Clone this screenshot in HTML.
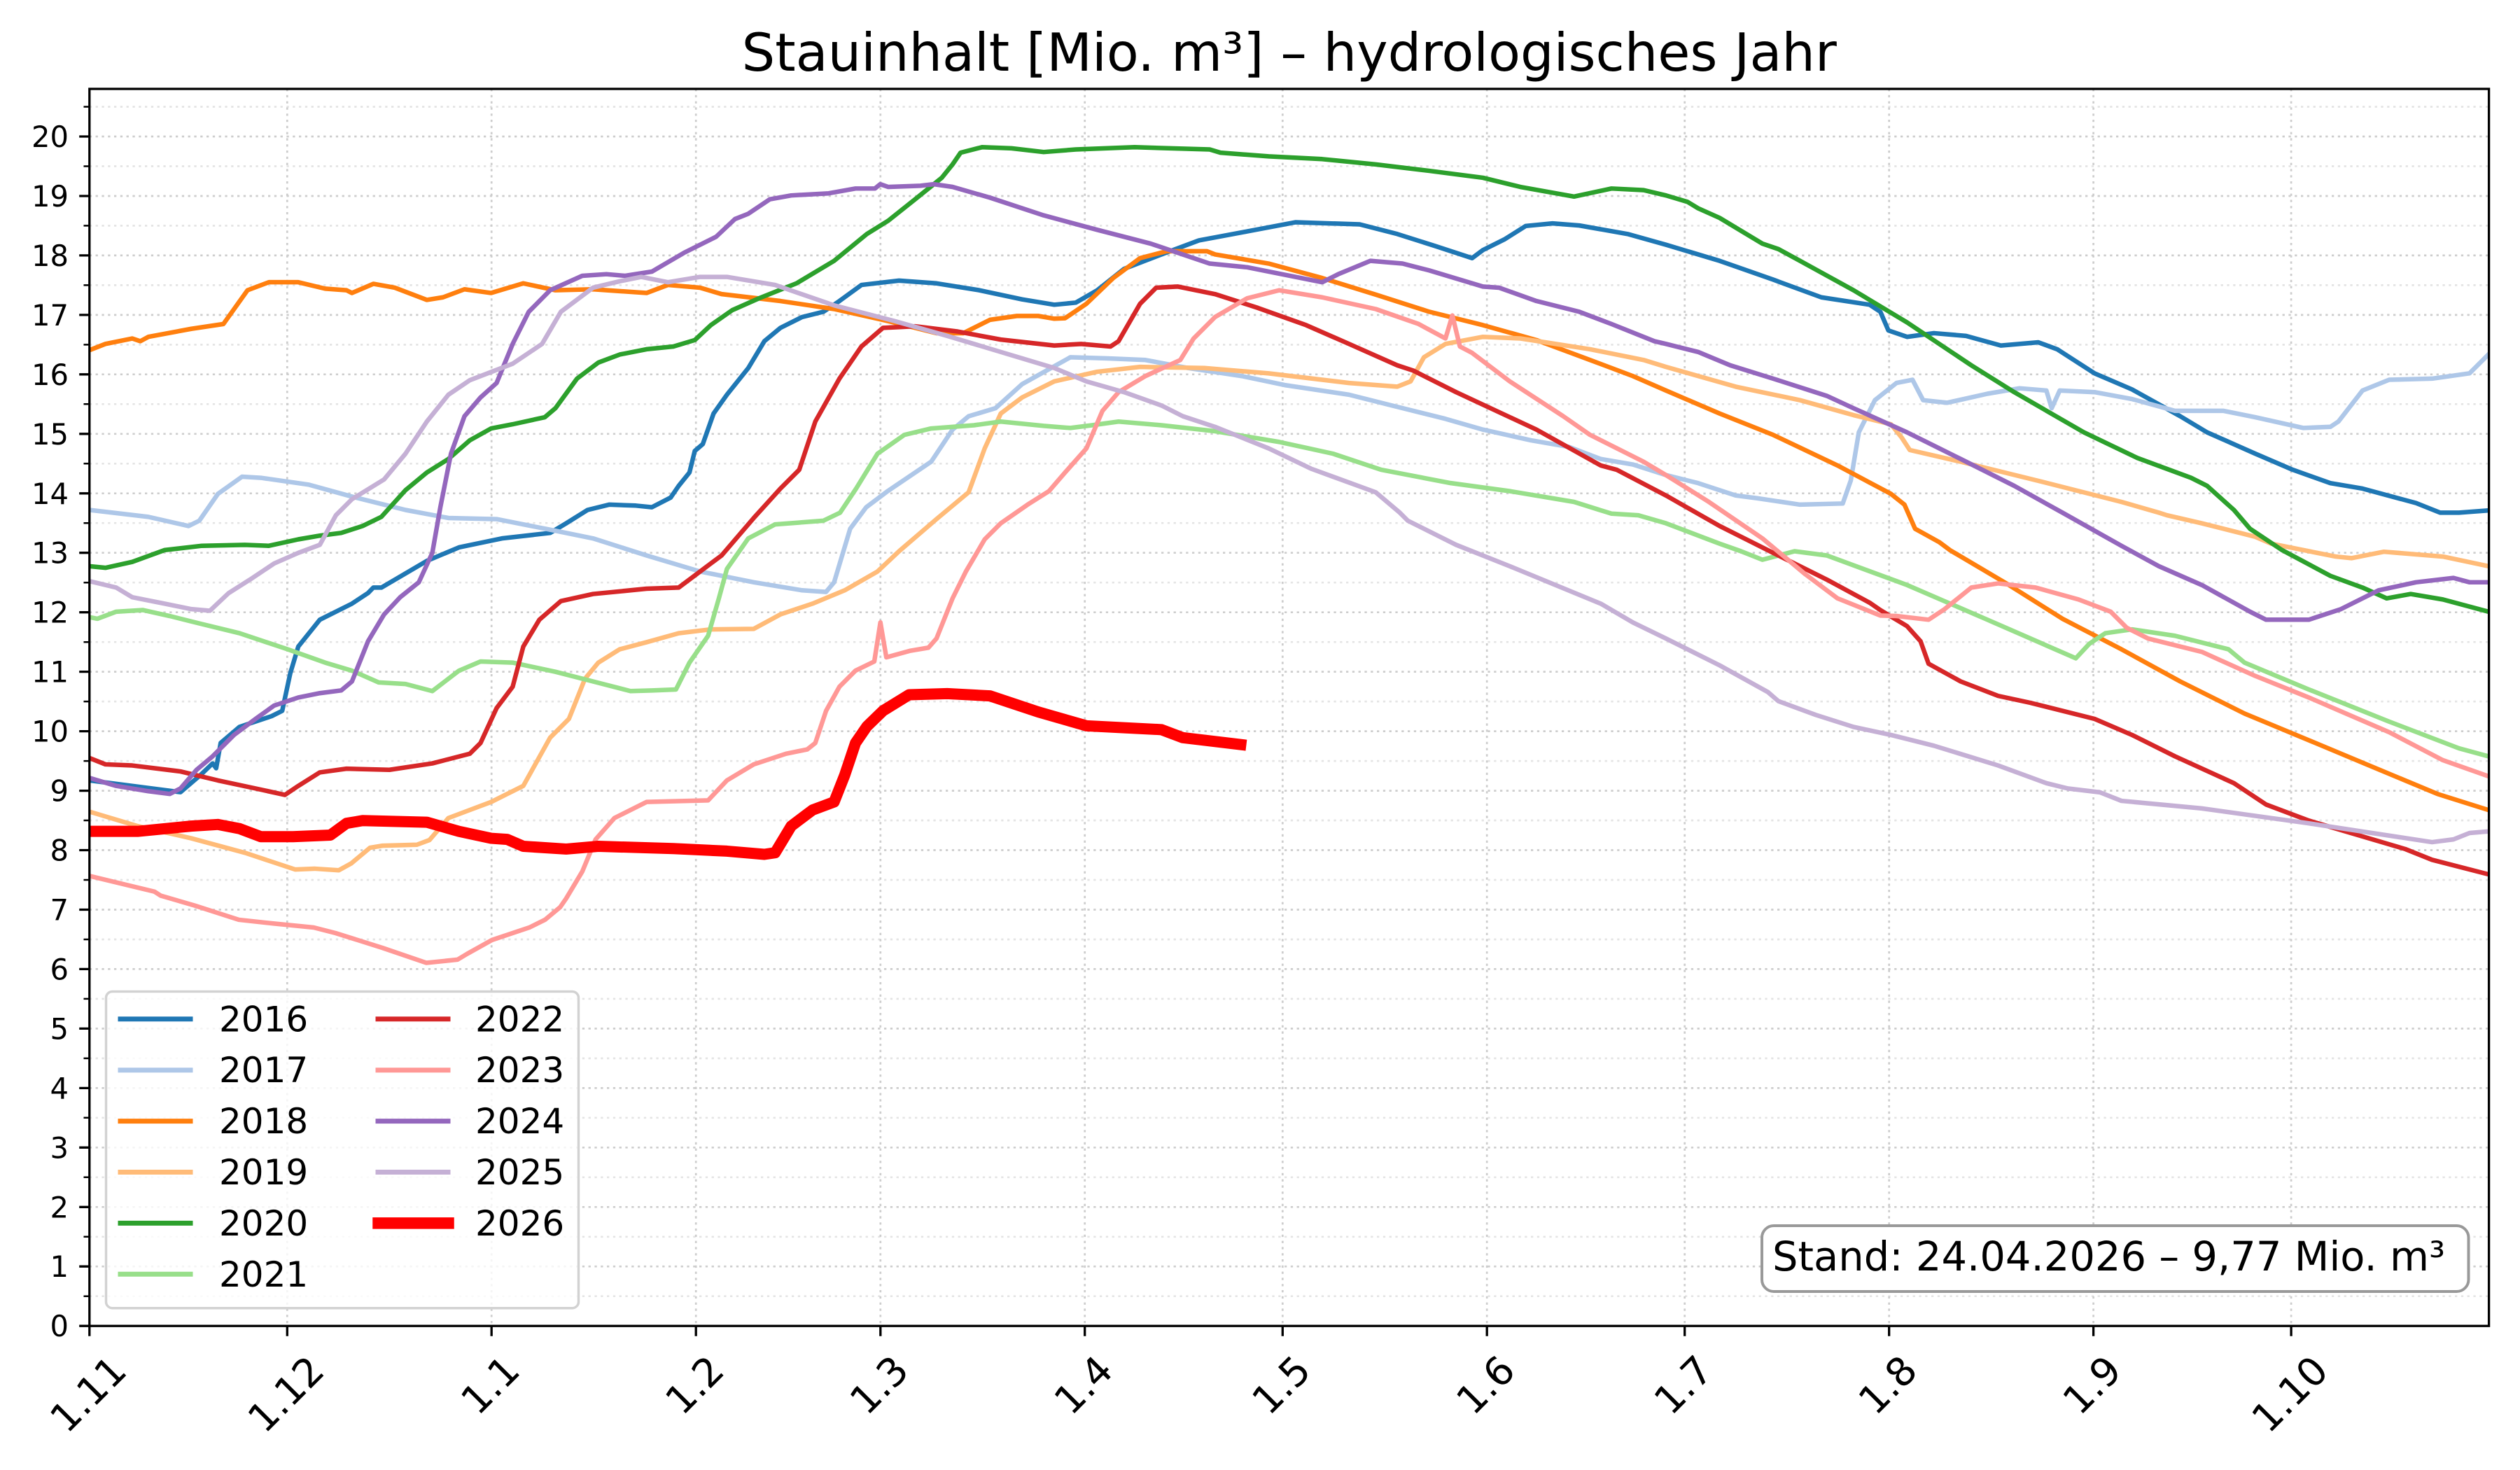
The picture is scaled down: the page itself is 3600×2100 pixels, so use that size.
<!DOCTYPE html>
<html><head><meta charset="utf-8"><style>
html,body{margin:0;padding:0;background:#fff;overflow:hidden}
svg{display:block}
text{font-family:"DejaVu Sans","Liberation Sans",sans-serif;fill:#000}
</style></head><body>
<svg width="3600" height="2100" viewBox="0 0 3600 2100" xmlns="http://www.w3.org/2000/svg">
<defs><clipPath id="ax"><rect x="127.8" y="127" width="3427.8" height="1767.2"/></clipPath></defs>
<rect x="0" y="0" width="3600" height="2100" fill="#fff"/>
<!-- minor horizontal grid -->
<g stroke="#e4e4e4" stroke-width="2.7" stroke-dasharray="3.3 5.5" fill="none">
<path d="M127.8 1851.7H3555.6M127.8 1766.8H3555.6M127.8 1681.8H3555.6M127.8 1596.8H3555.6M127.8 1511.9H3555.6M127.8 1426.9H3555.6M127.8 1342H3555.6M127.8 1257H3555.6M127.8 1172H3555.6M127.8 1087.1H3555.6M127.8 1002.1H3555.6M127.8 917.2H3555.6M127.8 832.2H3555.6M127.8 747.2H3555.6M127.8 662.3H3555.6M127.8 577.3H3555.6M127.8 492.4H3555.6M127.8 407.4H3555.6M127.8 322.4H3555.6M127.8 237.5H3555.6M127.8 152.5H3555.6"/>
</g>
<!-- major grid -->
<g stroke="#cdcdcd" stroke-width="2.7" stroke-dasharray="3.3 5.5" fill="none">
<path d="M127.8 1809.2H3555.6M127.8 1724.3H3555.6M127.8 1639.3H3555.6M127.8 1554.4H3555.6M127.8 1469.4H3555.6M127.8 1384.4H3555.6M127.8 1299.5H3555.6M127.8 1214.5H3555.6M127.8 1129.6H3555.6M127.8 1044.6H3555.6M127.8 959.6H3555.6M127.8 874.7H3555.6M127.8 789.7H3555.6M127.8 704.8H3555.6M127.8 619.8H3555.6M127.8 534.8H3555.6M127.8 449.9H3555.6M127.8 364.9H3555.6M127.8 280H3555.6M127.8 195H3555.6"/>
<path d="M410.3 127V1894.2M702.2 127V1894.2M994.2 127V1894.2M1257.8 127V1894.2M1549.7 127V1894.2M1832.3 127V1894.2M2124.2 127V1894.2M2406.7 127V1894.2M2698.7 127V1894.2M2990.6 127V1894.2M3273.1 127V1894.2"/>
</g>
<!-- series -->
<g clip-path="url(#ax)">
<g transform="scale(2.29592)" fill="none" stroke-linejoin="round" stroke-linecap="square" stroke-width="2.83">
<polyline stroke="#1f77b4" points="55.6,485.6 112.3,492.9 125,482 132.3,475 134.5,478 137.3,462.3 149,452.3 169,445.6 175.6,442.3 180.6,419 185.6,402.3 199,385.6 219,375.6 229,369 232.3,365.6 237.3,365.6 265.6,349 285.6,340.6 312.3,335 342.3,331.6 352.3,325.6 365.6,317.3 379,314 395.6,314.6 405.6,315.6 417.3,309.6 422.3,302.3 429,294 432.3,280.6 437.3,276.3 444,257.3 452.3,245.6 465.6,229 475.6,212.3 485.6,204 499,197.3 512.3,194 522.3,187.3 536,177.3 559.4,174.6 582.7,176.3 609.4,180.6 636,186.3 656,189.6 669.4,188.3 682.7,180.6 699.4,167.3 722.7,158.3 746,149.6 776,144 806,138.3 846,139.6 869.4,145.6 892.7,153 916,160.6 922.7,155.6 936,149 949.4,140.6 966,139 982.7,140.3 1012.7,145.6 1036.6,152.3 1070,162.3 1103.3,174 1133.3,185 1163.3,189.6 1170,194 1175,205.6 1186.6,209.6 1203.3,207.3 1223.3,209 1245,215 1268.3,213 1280,217.3 1303.3,232.3 1326.6,242.3 1356.6,259 1373.3,269 1403.3,282.3 1426.6,292.3 1450,300.6 1470,304 1503.3,313 1518.3,319 1530,319 1548.3,317.6"/>
<polyline stroke="#aec7e8" points="55.6,317.3 92.3,321.6 117.3,327.3 124,324 135.6,307.3 150.6,296.6 162.3,297.3 192.3,301.6 219,309 252.3,317.3 279,322.3 309,323 342.3,329.6 369,335 402.3,345.6 435.6,355.6 469,362.3 499,367.3 514,368.3 519,362.3 529,329 539,315.6 552.3,305.6 579.4,287.3 592.7,267.3 602.7,259 619.4,254 636,239 666,222.3 689.4,223 712.7,224 739.4,229 772.7,234 799.4,239.6 839.4,245.6 866,252.3 899.4,260.6 922.7,267.3 952.7,274 976,278 996,285.6 1016,289 1036.6,295.6 1056.6,300.6 1080,308.3 1093.3,310 1120,314 1146.6,313.3 1151.6,299 1156.6,269 1166.6,249 1180,238.3 1190,236.3 1196.6,249 1211.6,250.6 1236.6,245 1256.6,241.6 1273.3,243 1276.6,254 1281.6,243 1303.3,244 1326.6,248.3 1353.3,255.6 1383.3,255.6 1403.3,259.6 1433.3,266.3 1450,265.6 1455,262.3 1470,243 1486.6,236.3 1513.3,235.6 1536.6,232.3 1548.3,220.6"/>
<polyline stroke="#ff7f0e" points="55.6,217.9 65.6,214 82.3,210.6 87.3,212.3 92.3,209.6 119,204.6 139,201.6 154,180.6 167.3,175.6 185.6,175.6 202.3,179.6 215.6,180.6 219,182.3 232.3,176.6 245.6,179 265.6,186.6 275.6,185 289,180 305.6,182.3 325.6,176.3 345.6,180.6 369,180 402.3,182.3 415.6,177.3 435.6,179 449,183 485.6,187.3 519,192.3 549,199 556,200.6 582.7,207.3 599.4,207.3 616,199 632.7,196.6 646,196.6 656,198.3 662.7,198 676,189 692.7,173 709.4,160.6 726,156.3 751,156.3 756,158.3 789.4,164 822.7,173 856,183.3 889.4,194 922.7,202.3 956,211.6 989.4,224 1016,234 1036.6,243 1070,257.3 1103.3,270.6 1143.3,289.6 1176.6,307.3 1185,314 1191.6,329 1206.6,337.3 1213.3,342.3 1250,364 1283.3,385 1320,404 1356.6,424 1396.6,444 1436.6,460.6 1476.6,477.3 1516.6,494 1548.3,504"/>
<polyline stroke="#ffbb78" points="55.6,505 85.6,514 119,521.6 152.3,530.6 183.6,541 195.6,540.5 210.8,541.5 218.6,537.2 230.2,527.5 238,526.2 259.4,525.6 267.2,522.7 279,509 292.3,504 305.6,499 325.6,489 342.3,459 354,447.3 364,422.3 372.3,412.3 385.6,404 402.3,399.6 422.3,394 442.3,391.6 469,391.3 485.6,382.3 505.6,375.6 525.6,367.3 546,355.6 559.4,343 582.7,323 602.7,306.3 612.7,279 622.7,257.3 636,247.3 656,237.3 682.7,231.3 709.4,228.3 749.4,229 789.4,232.3 839.4,238.3 869.4,240.6 877.7,237.3 886,222.3 899.4,214 922.7,209.6 946,210.6 989.4,217.3 1022.7,224 1036.6,228.3 1080,240.6 1120,249 1153.3,258.3 1176.6,264 1183.3,272.3 1188.3,280 1220,287.3 1270,299.6 1320,312.3 1343.3,319 1348.3,320.6 1370,325.6 1403.3,334 1413.3,338.3 1453.3,346.3 1463.3,347.3 1483.3,343.3 1520,346.3 1548.3,352.3"/>
<polyline stroke="#2ca02c" points="55.6,352.3 65.6,353.3 82.3,349.6 102.3,342.3 125.6,339.6 152.3,339 167.3,339.6 185.6,335.6 199,333.3 212.3,331.6 225.6,327.3 237.3,321.6 252.3,305 265.6,294 279,285.6 292.3,274 305.6,266.6 319,264 339,259.6 345.6,254 359,235.6 372.3,225.6 385.6,220.6 402.3,217.3 419,215.6 432.3,211.6 442.3,202.3 455.6,193 472.3,185.6 495.6,176.3 519,162.3 539.4,145.6 552.7,137.3 569.4,124 586,110.6 592.7,102.3 597.7,95 611,91.6 629.4,92.3 649.4,94.6 669.4,93 706,91.6 752.7,93 759.4,95 789.4,97.3 822.7,99 856,102.3 889.4,106.3 922.7,110.6 946,116.3 979.4,122.3 1002.7,117.3 1022.7,118.3 1036.6,121.6 1050,125.6 1056.6,129.6 1070,135.6 1096.6,151.6 1106.6,155 1120,162.3 1153.3,180.6 1186.6,200.6 1226.6,227.3 1253.3,244 1296.6,269 1330,285 1363.3,297.3 1373.3,302.3 1390,317.3 1400,329 1420,342.3 1450,358.3 1470,365.6 1485,372.3 1500,369.6 1520,373 1548.3,380.6"/>
<polyline stroke="#98df8a" points="55.6,384 60.6,385 72.3,380.6 89,379.6 105.6,383.3 125.6,388.3 149,394 179,404 202.3,412.3 219,417.3 235.6,424.6 252.3,425.6 269,430 285.6,417.3 299,411.6 319,412.3 345.6,418 369,424 392.3,430 405.6,429.6 420.6,429 429,412.3 440.6,395.6 447.3,372.3 452.3,354 465.6,335 482.3,326.3 512.3,324 522.7,319 532.7,304 546,282.3 562.7,270.6 579.4,266.6 606,264.6 622.7,262.3 649.4,265 666,266.3 679.4,264.6 696,262.3 722.7,264.6 756,268.3 796,275 829.4,282.3 859.4,292.3 902.7,300.6 939.4,305.6 979.4,312.3 1002.7,319.6 1019.4,320.6 1036.6,325.6 1070,338.3 1083.3,343 1096.6,348.3 1116.6,343 1136.6,345.6 1186.6,364 1236.6,385.6 1291.6,409.6 1300,400.6 1310,394 1326.6,391.6 1353.3,395.6 1386.6,404 1396.6,412.3 1436.6,429 1486.6,449 1530,465.6 1548.3,470.6"/>
<polyline stroke="#d62728" points="55.6,471.6 65.6,475.6 82.3,476.3 112.3,480 135.6,485.6 159,490.6 177.3,494.6 185.6,489 199,480.6 215.6,478.3 242.3,479 269,475 292.3,469 299,462.3 309,440.6 319,427.3 325.6,402.3 335.6,385.6 349,374 369,369.6 402.3,366.3 422.3,365.6 429,360.6 449,345.6 469,322.3 485.6,304 497.3,292.3 507.3,262.3 522.3,235.6 536,215.6 549.4,204 569.4,203 596,206.3 622.7,211.3 656,215 672.7,214 691,215.6 696,212.3 709.4,189 719.4,179 732.7,178.3 756,183 782.7,191.6 812.7,202.3 839.4,214 869.4,227.3 879.4,230.6 906,244 956,267.3 996,289.6 1006,292.3 1036.6,308.3 1070,327.3 1103.3,344 1136.6,360.6 1163.3,375 1170,379.6 1186.6,389.6 1195,399 1200,413 1220,424 1243.3,433 1263.3,437.3 1303.3,447.3 1326.6,457.3 1353.3,470.6 1390,487.3 1410,500.6 1436.6,510.6 1496.6,528.3 1513.3,535 1548.3,544"/>
<polyline stroke="#ff9896" points="55.6,545 96.1,554.8 100,557.3 121.3,563.5 148.6,572.3 170,574.6 195.2,577.1 208.8,580.6 238,589.8 265.2,599.1 284.7,597.1 290.5,593.6 306.1,584.9 329.4,577.1 339.1,572.3 348.5,564.5 352.3,559 362.3,542.3 370.6,522.3 382.3,509 402.3,499 440.6,498 452.3,485.6 469,475.6 489,469 502.3,466.3 507.3,462.3 514,442.3 522.3,427.3 532.3,417.3 544,411.6 547.8,387.3 551.5,409 566,405 577.7,403 582.7,397.3 592.7,372.3 601,355.6 612.7,335.6 622.7,325.6 639.4,314 652.7,305.6 662.7,294 676,279 686,255.6 696,244 712.7,234 734.4,224 742.7,210.6 756,197.3 776,185.6 796,180.6 822.7,185 856,192.3 882.7,201.6 899.4,210.6 903.7,196.3 908.4,215.6 916,219.6 939.4,237.3 972.7,259 989.4,270.6 1022.7,287.3 1036.6,295.6 1063.3,312.3 1096.6,335 1123.3,357.3 1143.3,372.3 1170,383 1180,383.3 1200,385.6 1210,379 1226.6,365.6 1243.3,363 1266.6,365.6 1293.3,373 1313.3,380.6 1323.3,390.6 1336.6,397.3 1370,405.6 1403.3,420.6 1436.6,434 1486.6,455.6 1520,473 1548.3,483"/>
<polyline stroke="#9467bd" points="55.6,484 72.3,489 92.3,492.3 105.6,494 112.3,490.6 122.3,479 132.3,470.6 145.6,457.3 159,447.3 170.6,439 185.6,434 199,431.3 212.3,429.6 219,424 229,399 239,382.3 249,371.6 260.6,362.3 269,344 274,315.6 280.6,282.3 289,259 299,247.3 309,238.3 319,214 329,194 342.3,180.6 362.3,171.6 377.3,170.6 389,171.6 405.6,169 425.6,157.3 445.6,147.3 457.3,136.3 465.6,133 479,124 492.3,121.6 515.6,120.3 532.3,117.3 544.4,117.3 547.7,114.6 552.7,116.3 572.7,115.6 581,114.6 592.7,116.3 616,123 649.4,134 682.7,143 716,151.6 752.7,164 776,166.3 822.7,175.6 832.7,170.6 852.7,162.3 872.7,164 889.4,168.3 922.7,178.3 932.7,179 956,187.3 982.7,194 1002.7,201.6 1029.4,212.3 1036.6,214 1056.6,219 1076.6,227.3 1103.3,235.6 1136.6,246.3 1153.3,254 1186.6,269 1220,285.6 1253.3,302.3 1283.3,319 1320,339.6 1343.3,352.3 1370,364 1400,380.6 1410,385.6 1436.6,385.6 1456.6,379 1480,367.3 1503.3,362.3 1526.6,359.6 1536.6,362.3 1548.3,362.3"/>
<polyline stroke="#c5b0d5" points="55.6,361.6 72.3,365.6 82.3,371.6 102.3,375.6 119,379 130.6,380 142.3,369 155.6,360.6 170.6,350.6 185.6,344 199,339 209,320.6 219,310.6 239,298.3 252.3,282.3 265.6,262.3 279,245.6 292.3,236.6 319,226.3 337.3,214 349,194 369,179 385.6,175 399,172.3 415.6,175.6 435.6,172.3 452.3,172.3 482.3,177.3 519,190 556,199.6 589.4,209 622.7,219 656,229 676,237.3 699.4,244 722.7,252.3 736,259 756,265.6 789.4,279 815.7,291.6 856,306.3 871,319 876,324 906,339 939.4,352.3 996,375.6 1016,387.3 1036.6,397.3 1070,414 1100,430.6 1106.6,436.3 1130,444.9 1153.3,452.3 1176.6,457.3 1203.3,464 1243.3,476.3 1273.3,487.3 1286.6,490.6 1306.6,493 1320,498.3 1370,503 1436.6,512.3 1513.3,524 1526.6,522.3 1536.6,518.3 1548.3,517.3"/>
<polyline stroke="#ff0000" stroke-width="6.97" points="55.6,517.3 85.6,517.3 119,514 135.6,513 149,515.6 162.3,520.6 182.3,520.6 205.6,519.6 215.6,512.3 225.6,510.6 265.6,511.6 285.6,517.3 305.6,521.6 315.6,522.3 325.6,526.6 352.3,528.3 372.3,526.6 419,528 452.3,529.6 475.6,531.6 482.3,530.6 492.3,514 505.6,504 519,499 525.6,482.3 532.3,462.3 539.4,452 549.4,442.3 565.6,432.3 589.4,431.6 616,433 646,443 676,451.6 722.7,454 736,459 772,463.3"/>
</g>
</g>
<!-- spines -->
<rect x="127.8" y="127" width="3427.8" height="1767.2" fill="none" stroke="#000" stroke-width="3.3"/>
<!-- ticks -->
<g stroke="#000" stroke-width="3.3">
<path d="M113.2 1894.2H127.8M113.2 1809.2H127.8M113.2 1724.3H127.8M113.2 1639.3H127.8M113.2 1554.4H127.8M113.2 1469.4H127.8M113.2 1384.4H127.8M113.2 1299.5H127.8M113.2 1214.5H127.8M113.2 1129.6H127.8M113.2 1044.6H127.8M113.2 959.6H127.8M113.2 874.7H127.8M113.2 789.7H127.8M113.2 704.8H127.8M113.2 619.8H127.8M113.2 534.8H127.8M113.2 449.9H127.8M113.2 364.9H127.8M113.2 280H127.8M113.2 195H127.8"/>
<path d="M410.3 1894.2V1908.8M702.2 1894.2V1908.8M994.2 1894.2V1908.8M1257.8 1894.2V1908.8M1549.7 1894.2V1908.8M1832.3 1894.2V1908.8M2124.2 1894.2V1908.8M2406.7 1894.2V1908.8M2698.7 1894.2V1908.8M2990.6 1894.2V1908.8M3273.1 1894.2V1908.8M127.8 1894.2V1908.8"/>
</g>
<g stroke="#000" stroke-width="2.5">
<path d="M119.5 1851.7H127.8M119.5 1766.8H127.8M119.5 1681.8H127.8M119.5 1596.8H127.8M119.5 1511.9H127.8M119.5 1426.9H127.8M119.5 1342H127.8M119.5 1257H127.8M119.5 1172H127.8M119.5 1087.1H127.8M119.5 1002.1H127.8M119.5 917.2H127.8M119.5 832.2H127.8M119.5 747.2H127.8M119.5 662.3H127.8M119.5 577.3H127.8M119.5 492.4H127.8M119.5 407.4H127.8M119.5 322.4H127.8M119.5 237.5H127.8M119.5 152.5H127.8"/>
</g>
<!-- y labels -->
<g font-size="41.7" text-anchor="end">
<text x="98" y="1909.2">0</text><text x="98" y="1824.2">1</text><text x="98" y="1739.3">2</text><text x="98" y="1654.3">3</text><text x="98" y="1569.4">4</text><text x="98" y="1484.4">5</text><text x="98" y="1399.4">6</text><text x="98" y="1314.5">7</text><text x="98" y="1229.5">8</text><text x="98" y="1144.6">9</text><text x="98" y="1059.6">10</text><text x="98" y="974.6">11</text><text x="98" y="889.7">12</text><text x="98" y="804.7">13</text><text x="98" y="719.8">14</text><text x="98" y="634.8">15</text><text x="98" y="549.8">16</text><text x="98" y="464.9">17</text><text x="98" y="379.9">18</text><text x="98" y="295">19</text><text x="98" y="210">20</text>
</g>
<!-- x labels -->
<g font-size="56" text-anchor="middle">
<text x="125.3" y="2011.4" transform="rotate(-45 125.3 1991)">1.11</text>
<text x="407.8" y="2011.4" transform="rotate(-45 407.8 1991)">1.12</text>
<text x="699.7" y="1998.4" transform="rotate(-45 699.7 1978)">1.1</text>
<text x="991.7" y="1998.4" transform="rotate(-45 991.7 1978)">1.2</text>
<text x="1255.3" y="1998.4" transform="rotate(-45 1255.3 1978)">1.3</text>
<text x="1547.2" y="1998.4" transform="rotate(-45 1547.2 1978)">1.4</text>
<text x="1829.8" y="1998.4" transform="rotate(-45 1829.8 1978)">1.5</text>
<text x="2121.7" y="1998.4" transform="rotate(-45 2121.7 1978)">1.6</text>
<text x="2404.2" y="1998.4" transform="rotate(-45 2404.2 1978)">1.7</text>
<text x="2696.2" y="1998.4" transform="rotate(-45 2696.2 1978)">1.8</text>
<text x="2988.1" y="1998.4" transform="rotate(-45 2988.1 1978)">1.9</text>
<text x="3270.6" y="2011.4" transform="rotate(-45 3270.6 1991)">1.10</text>
</g>
<!-- title -->
<text x="1841.7" y="101" font-size="75" text-anchor="middle">Stauinhalt [Mio. m³] – hydrologisches Jahr</text>
<!-- legend -->
<rect x="151.5" y="1416.5" width="675" height="452.2" rx="9" ry="9" fill="#fff" fill-opacity="0.8" stroke="#d2d2d2" stroke-width="3.5"/>
<g fill="none" stroke-linecap="square" stroke-width="7">
<path stroke="#1f77b4" d="M172 1455.8H272"/>
<path stroke="#aec7e8" d="M172 1528.7H272"/>
<path stroke="#ff7f0e" d="M172 1601.6H272"/>
<path stroke="#ffbb78" d="M172 1674.5H272"/>
<path stroke="#2ca02c" d="M172 1747.4H272"/>
<path stroke="#98df8a" d="M172 1820.3H272"/>
<path stroke="#d62728" d="M540 1455.8H640"/>
<path stroke="#ff9896" d="M540 1528.7H640"/>
<path stroke="#9467bd" d="M540 1601.6H640"/>
<path stroke="#c5b0d5" d="M540 1674.5H640"/>
<path stroke="#ff0000" stroke-width="16.5" d="M540.5 1747.4H640.5"/>
</g>
<g font-size="50">
<text x="313" y="1473.3">2016</text>
<text x="313" y="1546.2">2017</text>
<text x="313" y="1619.1">2018</text>
<text x="313" y="1692">2019</text>
<text x="313" y="1764.9">2020</text>
<text x="313" y="1837.8">2021</text>
<text x="679" y="1473.3">2022</text>
<text x="679" y="1546.2">2023</text>
<text x="679" y="1619.1">2024</text>
<text x="679" y="1692">2025</text>
<text x="679" y="1764.9">2026</text>
</g>
<!-- stand box -->
<rect x="2517" y="1751" width="1009.5" height="94" rx="17" ry="17" fill="#fff" stroke="#999" stroke-width="4"/>
<text x="2532" y="1815" font-size="57.5">Stand: 24.04.2026 – 9,77 Mio. m³</text>
</svg>
</body></html>
